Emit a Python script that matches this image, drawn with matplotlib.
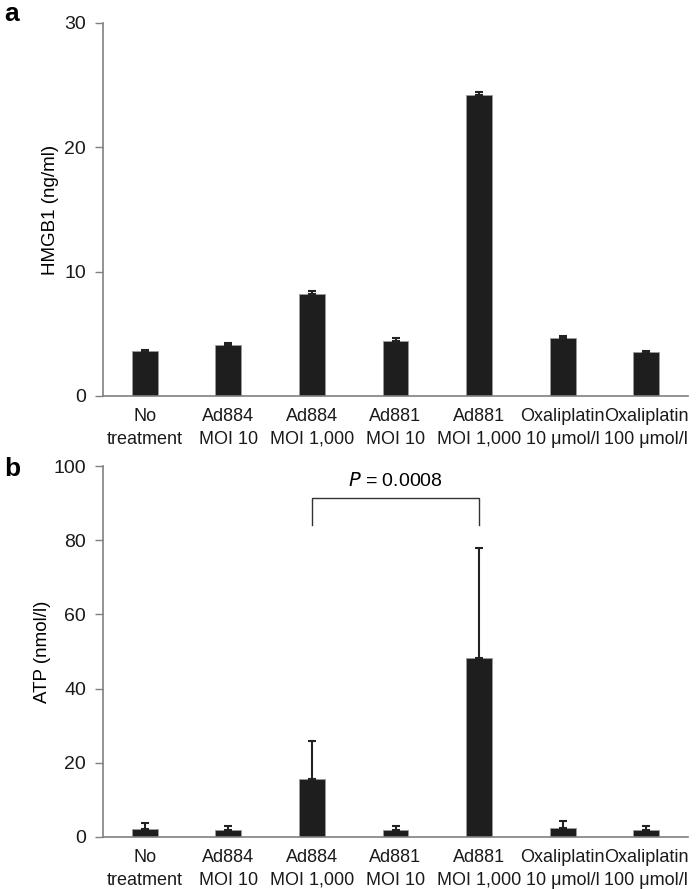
import matplotlib.pyplot as plt

plt.rcParams["font.family"] = ["Liberation Sans", "DejaVu Sans"]

# ==========================================================
# Data
# ==========================================================

CATEGORIES = [
    "No\ntreatment",
    "Ad884\nMOI 10",
    "Ad884\nMOI 1,000",
    "Ad881\nMOI 10",
    "Ad881\nMOI 1,000",
    "Oxaliplatin\n10 \u03bcmol/l",
    "Oxaliplatin\n100 \u03bcmol/l",
]

HMGB1 = [3.6, 4.1, 8.2, 4.4, 24.2, 4.7, 3.5]
HMGB1_ERR = [0.06, 0.15, 0.25, 0.3, 0.25, 0.12, 0.15]

ATP = [2.2, 1.8, 15.5, 1.8, 48.3, 2.5, 1.8]
ATP_ERR = [1.5, 1.2, 10.5, 1.2, 29.5, 1.7, 1.2]

P_TEXT = "0.0008"

BAR_COLOR = "#1e1e1e"
AXIS_COLOR = "#808080"
FS = 13


def style_axes(ax):
    for side in ["top", "right"]:
        ax.spines[side].set_visible(False)
    for side in ["left", "bottom"]:
        ax.spines[side].set_color(AXIS_COLOR)
        ax.spines[side].set_linewidth(1.2)
    ax.tick_params(axis="y", colors=AXIS_COLOR, labelcolor="#1a1a1a",
                   labelsize=FS + 1, length=6, width=1, pad=6)
    ax.tick_params(axis="x", length=0, labelsize=FS, labelcolor="#1a1a1a", pad=9)


def draw_panel(ax, values, errors):
    x = range(len(CATEGORIES))
    ax.bar(x, values, width=0.31, color=BAR_COLOR, edgecolor="#9a9a9a",
           linewidth=0.6, zorder=2)
    ax.errorbar(x, values, yerr=[[0] * len(errors), errors], fmt="none",
                ecolor="#222222", elinewidth=1.5, capsize=3, capthick=1.5,
                zorder=3)
    ax.set_xticks(list(x))
    ax.set_xticklabels(CATEGORIES, linespacing=1.4)
    ax.set_xlim(-0.5, len(CATEGORIES) - 0.5)
    style_axes(ax)


fig = plt.figure(figsize=(7, 8.89), dpi=100)

# Panel a
ax1 = fig.add_axes([0.147, 0.5546, 0.836, 0.4196])
draw_panel(ax1, HMGB1, HMGB1_ERR)
ax1.set_ylim(0, 30)
ax1.set_yticks([0, 10, 20, 30])
ax1.set_ylabel("HMGB1 (ng/ml)", fontsize=FS + 0.5, labelpad=4)
fig.text(0.006, 0.984, "a", fontsize=19, fontweight="bold", va="center")

# Panel b
ax2 = fig.add_axes([0.147, 0.0585, 0.836, 0.4173])
draw_panel(ax2, ATP, ATP_ERR)
ax2.set_ylim(0, 100)
ax2.set_yticks([0, 20, 40, 60, 80, 100])
ax2.set_ylabel("ATP (nmol/l)", fontsize=FS + 0.5, labelpad=2)
fig.text(0.006, 0.472, "b", fontsize=19, fontweight="bold", va="center")

# significance bracket
ax2.plot([2, 2, 4, 4], [84, 91.5, 91.5, 84], color="#333333", linewidth=1.0)
ax2.text(3, 93.5, "$P$ = " + P_TEXT, ha="center", va="bottom", fontsize=FS + 1)

plt.savefig("out.png", dpi=100)
